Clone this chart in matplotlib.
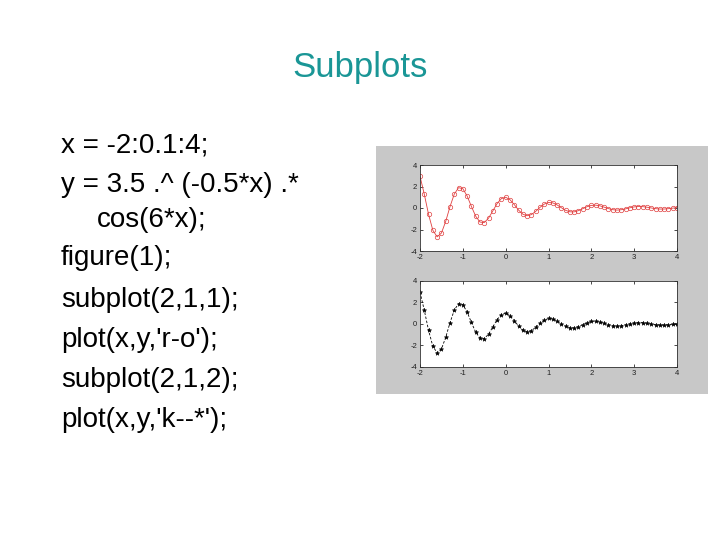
import matplotlib
matplotlib.use("Agg")
import matplotlib.pyplot as plt

# x = -2:0.1:4 and the y values
x = [-2.0, -1.9, -1.8, -1.7, -1.6, -1.5, -1.4, -1.3, -1.2, -1.1,
     -1.0, -0.9, -0.8, -0.7, -0.6, -0.5, -0.4, -0.3, -0.2, -0.1,
     0.0, 0.1, 0.2, 0.3, 0.4, 0.5, 0.6, 0.7, 0.8, 0.9,
     1.0, 1.1, 1.2, 1.3, 1.4, 1.5, 1.6, 1.7, 1.8, 1.9,
     2.0, 2.1, 2.2, 2.3, 2.4, 2.5, 2.6, 2.7, 2.8, 2.9,
     3.0, 3.1, 3.2, 3.3, 3.4, 3.5, 3.6, 3.7, 3.8, 3.9, 4.0]
y = [2.954, 1.283, -0.597, -2.072, -2.683, -2.331, -1.248, 0.122, 1.290, 1.893,
     1.796, 1.115, 0.144, -0.760, -1.306, -1.354, -0.947, -0.274, 0.411, 0.879,
     1.000, 0.775, 0.320, -0.188, -0.574, -0.724, -0.616, -0.316, 0.053, 0.361,
     0.513, 0.477, 0.287, 0.024, -0.216, -0.356, -0.361, -0.246, -0.063, 0.119,
     0.241, 0.268, 0.203, 0.079, -0.057, -0.159, -0.195, -0.161, -0.080, 0.020,
     0.101, 0.139, 0.126, 0.073, 0.001, -0.061, -0.097, -0.096, -0.063, -0.013, 0.035]
xticks = [-2, -1, 0, 1, 2, 3, 4]
yticks = [-4, -2, 0, 2, 4]

code_lines = ["x = -2:0.1:4;",
              "y = 3.5 .^ (-0.5*x) .*",
              "    cos(6*x);",
              "figure(1);",
              "subplot(2,1,1);",
              "plot(x,y,'r-o');",
              "subplot(2,1,2);",
              "plot(x,y,'k--*');"]
code_y = [145, 185, 220, 258, 300, 340, 380, 420]

plt.rcParams['font.family'] = ['Liberation Sans', 'DejaVu Sans']
plt.rcParams['axes.unicode_minus'] = False
fig = plt.figure(figsize=(7.2, 5.4), dpi=100)
fig.patch.set_facecolor('white')

# titel
fig.text(0.5, 1 - 68 / 540, "Subplots", color='#1a9696', fontsize=25,
         ha='center', va='center')

# code on the left
for i, line in enumerate(code_lines):
    xpos = 61 / 720
    txt = line
    if line.startswith("    "):
        xpos = 97 / 720
        txt = line.strip()
    fig.text(xpos, 1 - code_y[i] / 540, txt, fontsize=20, ha='left', va='center')

# gray matlab figure background
bg = fig.add_axes([376 / 720, 1 - 394 / 540, 332 / 720, 248 / 540])
bg.set_facecolor('#c8c8c8')
bg.set_xticks([])
bg.set_yticks([])
for s in bg.spines.values():
    s.set_visible(False)

ax1 = fig.add_axes([420 / 720, 1 - 251 / 540, 257 / 720, 86 / 540])
ax2 = fig.add_axes([420 / 720, 1 - 367 / 540, 257 / 720, 86 / 540])

ax1.plot(x, y, '-o', color='#e04040', lw=0.6, ms=3.2, mfc='none', mew=0.5)
ax2.plot(x, y, '--*', color='k', lw=0.6, ms=3.2, mew=0.4, dashes=(3, 2))

for ax in (ax1, ax2):
    ax.set_xlim(-2, 4)
    ax.set_ylim(-4, 4)
    ax.set_xticks(xticks)
    ax.set_yticks(yticks)
    ax.tick_params(direction='in', length=2, width=0.5, labelsize=5.5,
                   top=True, right=True, labelcolor='#202020')
    ax.tick_params(axis='x', pad=2.5)
    ax.tick_params(axis='y', pad=2)
    for s in ax.spines.values():
        s.set_linewidth(0.6)
        s.set_color('#303030')

fig.savefig("out.png", dpi=100)
